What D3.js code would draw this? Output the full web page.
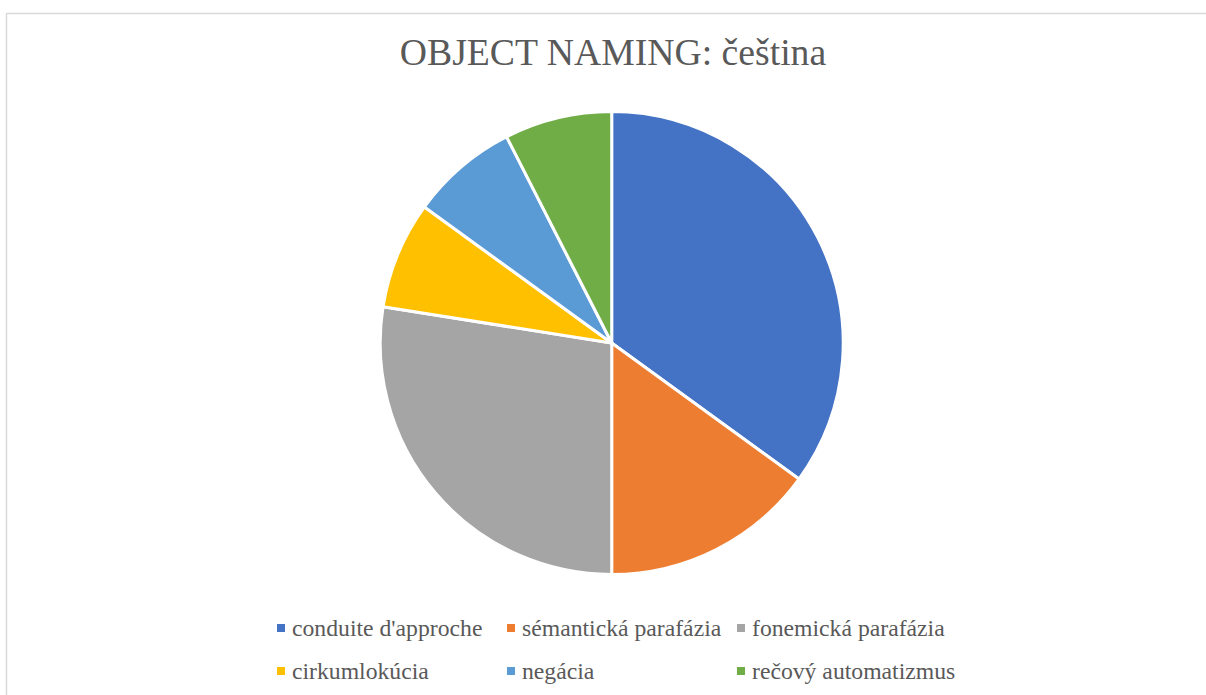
<!DOCTYPE html>
<html><head><meta charset="utf-8">
<script src="https://cdn.jsdelivr.net/npm/d3@7"></script>
<style>html,body{margin:0;padding:0;background:#fff;}svg{display:block;}
.f{font-family:"Liberation Serif","Times New Roman",Times,"Tinos","DejaVu Serif",serif;}</style>
</head><body>
<script>
const categories = ["conduite d'approche","sémantická parafázia","fonemická parafázia","cirkumlokúcia","negácia","rečový automatizmus"];
const values = [14, 6, 11, 3, 3, 3];
const colors = ["#4472C4","#ED7D31","#A5A5A5","#FFC000","#5B9BD5","#70AD47"];
const title = "OBJECT NAMING: čeština";

const W = 1206, H = 695;
const svg = d3.select("body").append("svg").attr("width", W).attr("height", H);
svg.append("rect").attr("x",6.5).attr("y",13.5).attr("width",1220).attr("height",720)
  .attr("fill","#fff").attr("stroke","#d9d9d9").attr("stroke-width",1.5);

svg.append("text").attr("class","f").attr("x",613).attr("y",65).attr("text-anchor","middle")
  .attr("font-size",37.7).attr("fill","#595959").text(title);

const cx = 611.7, cy = 343, r = 231.5;
const pie = d3.pie().sort(null).value(d=>d)(values);
const arc = d3.arc().innerRadius(0).outerRadius(r);
svg.append("g").attr("transform",`translate(${cx},${cy})`)
  .selectAll("path").data(pie).join("path")
  .attr("d",arc).attr("fill",(d,i)=>colors[i])
  .attr("stroke","#fff").attr("stroke-width",3).attr("stroke-linejoin","round");

const legX = [277, 507, 737];
const legY = [624, 667];
const lg = svg.append("g");
categories.forEach((c,i)=>{
  const col = i%3, row = Math.floor(i/3);
  lg.append("rect").attr("x",legX[col]).attr("y",legY[row]).attr("width",8).attr("height",8).attr("fill",colors[i]);
  lg.append("text").attr("class","f").attr("x",legX[col]+15).attr("y",legY[row]+12)
    .attr("font-size",23.7).attr("fill","#595959").text(c);
});
</script>
</body></html>
